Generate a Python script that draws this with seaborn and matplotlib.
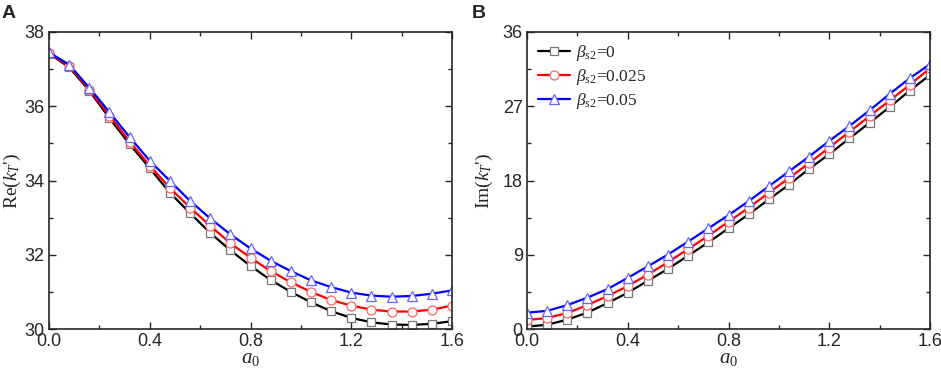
import numpy as np
import pandas as pd
import seaborn as sns
import matplotlib.pyplot as plt
from matplotlib.ticker import MultipleLocator

# dimensionless frequency a0 (marker positions)
a0 = [0.0, 0.08, 0.16, 0.24, 0.32, 0.40, 0.48, 0.56, 0.64, 0.72, 0.80,
      0.88, 0.96, 1.04, 1.12, 1.20, 1.28, 1.36, 1.44, 1.52, 1.60]

# panel A: Re(kT')
re_b0 = [37.42, 37.05, 36.42, 35.68, 34.98, 34.33, 33.67, 33.12, 32.59, 32.12, 31.70,
         31.32, 31.00, 30.72, 30.48, 30.30, 30.18, 30.12, 30.11, 30.14, 30.21]
re_b025 = [37.43, 37.08, 36.45, 35.75, 35.05, 34.40, 33.80, 33.27, 32.78, 32.31, 31.92,
           31.56, 31.26, 31.00, 30.78, 30.63, 30.52, 30.47, 30.47, 30.52, 30.63]
re_b05 = [37.45, 37.12, 36.50, 35.84, 35.17, 34.53, 33.99, 33.45, 32.98, 32.55, 32.17,
          31.84, 31.56, 31.31, 31.13, 30.98, 30.90, 30.87, 30.89, 30.95, 31.04]

# panel B: Im(kT')
im_b0 = [0.28, 0.52, 1.13, 2.0, 3.14, 4.4, 5.85, 7.3, 8.9, 10.5, 12.2,
         13.9, 15.7, 17.5, 19.4, 21.2, 23.1, 25.0, 26.9, 28.9, 30.8]
im_b025 = [1.09, 1.33, 1.94, 2.9, 4.0, 5.2, 6.6, 8.1, 9.7, 11.3, 13.0,
           14.7, 16.5, 18.3, 20.1, 22.0, 23.9, 25.8, 27.7, 29.6, 31.6]
im_b05 = [1.98, 2.2, 2.9, 3.8, 4.85, 6.2, 7.6, 9.03, 10.6, 12.2, 13.8,
          15.5, 17.3, 19.1, 20.9, 22.8, 24.6, 26.5, 28.5, 30.4, 32.1]

labels = [r"$\beta_{s2}$=0", r"$\beta_{s2}$=0.025", r"$\beta_{s2}$=0.05"]
line_colors = ["black", "red", "blue"]
edge_colors = ["#777777", "#ff6666", "#6666ff"]
markers = ["s", "o", "^"]

sns.set_style("ticks")
plt.rcParams['font.family'] = ['Liberation Sans', 'DejaVu Sans']
plt.rcParams['mathtext.fontset'] = 'custom'
plt.rcParams['mathtext.rm'] = 'Liberation Serif'
plt.rcParams['mathtext.it'] = 'Liberation Serif:italic'
plt.rcParams['mathtext.bf'] = 'Liberation Serif:bold'

fig = plt.figure(figsize=(9.41, 3.72), dpi=100)
axA = fig.add_axes([49 / 941, 1 - 329 / 372, (452 - 49) / 941, (329 - 32) / 372])
axB = fig.add_axes([527 / 941, 1 - 329 / 372, (930 - 527) / 941, (329 - 32) / 372])


def draw(ax, series):
    for ys, lab, lc, ec, mk in zip(series, labels, line_colors, edge_colors, markers):
        df = pd.DataFrame({"a0": a0, "v": ys})
        sns.lineplot(data=df, x="a0", y="v", ax=ax, color=lc, lw=1.6,
                     marker=mk, markersize=6.5 if mk != "s" else 5.5,
                     mfc="white", mec=ec, mew=0.9, label=lab, legend=False)
    ax.set_xlim(0, 1.6)
    ax.xaxis.set_major_locator(MultipleLocator(0.4))
    ax.xaxis.set_minor_locator(MultipleLocator(0.2))
    ax.xaxis.set_major_formatter(plt.FormatStrFormatter("%.1f"))
    ax.tick_params(which="both", direction="in", top=True, right=True, labelsize=13)
    ax.tick_params(which="major", length=5, width=1, pad=3)
    ax.tick_params(which="minor", length=3, width=1)
    for s in ax.spines.values():
        s.set_linewidth(1.2)
    ax.set_xlabel(r"$a_0$", fontsize=15)
    ax.xaxis.set_label_coords(0.5, -0.068)


draw(axA, [re_b0, re_b025, re_b05])
axA.set_ylim(30, 38)
axA.yaxis.set_major_locator(MultipleLocator(2))
axA.yaxis.set_minor_locator(MultipleLocator(1))
axA.set_ylabel(r"Re($k_T$')", fontsize=14, family="Liberation Serif")
axA.yaxis.set_label_coords(-0.064, 0.5)

draw(axB, [im_b0, im_b025, im_b05])
axB.set_ylim(0, 36)
axB.yaxis.set_major_locator(MultipleLocator(9))
axB.yaxis.set_minor_locator(MultipleLocator(4.5))
axB.set_ylabel(r"Im($k_T$')", fontsize=14, family="Liberation Serif")
axB.yaxis.set_label_coords(-0.08, 0.5)
leg = axB.legend(loc="upper left", frameon=False, handlelength=1.8,
                 handletextpad=0.35, labelspacing=0.22, borderaxespad=0.25,
                 prop={"family": "Liberation Serif", "size": 12.5})

fig.text(2 / 941, 1 - 14 / 372, "A", fontsize=14, fontweight="bold", va="center")
fig.text(472 / 941, 1 - 14 / 372, "B", fontsize=14, fontweight="bold", va="center")

fig.savefig("out.png", dpi=100)
